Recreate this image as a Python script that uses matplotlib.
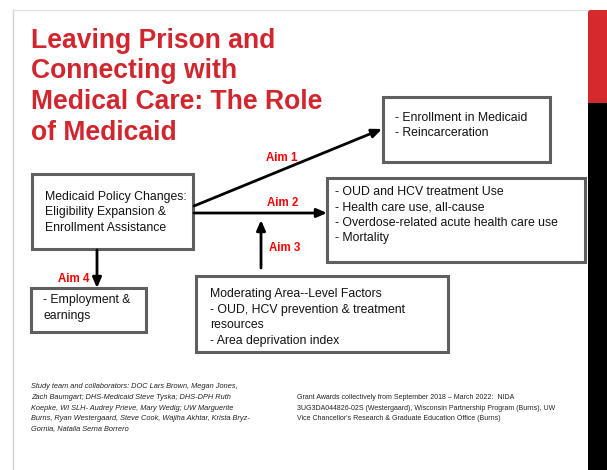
import matplotlib.pyplot as plt
from matplotlib.patches import Rectangle, FancyArrowPatch

plt.rcParams['font.family'] = ['Liberation Sans', 'DejaVu Sans']

# slide content
title_lines = ["Leaving Prison and", "Connecting with",
               "Medical Care: The Role", "of Medicaid"]
policy_text = ["Medicaid Policy Changes:", "Eligibility Expansion &",
               "Enrollment Assistance"]
enroll_text = ["- Enrollment in Medicaid", "- Reincarceration"]
outcome_text = ["- OUD and HCV treatment Use", "- Health care use, all-cause",
                "- Overdose-related acute health care use", "- Mortality"]
employ_text = ["- Employment &", "earnings"]
moder_text = ["Moderating Area--Level Factors",
              "- OUD, HCV prevention & treatment", "resources",
              "- Area deprivation index"]
aim_labels = ["Aim 1", "Aim 2", "Aim 3", "Aim 4"]
team_lines = ["Study team and collaborators: DOC Lars Brown, Megan Jones,",
              "Zach Baumgart; DHS-Medicaid Steve Tyska; DHS-DPH Ruth",
              "Koepke, WI SLH- Audrey Prieve, Mary Wedig; UW Marguerite",
              "Burns, Ryan Westergaard, Steve Cook, Wajiha Akhtar, Krista Bryz-",
              "Gornia, Natalia Serna Borrero"]
grant_lines = ["Grant Awards collectively from September 2018 \u2013 March 2022:  NIDA",
               "3UG3DA044826-02S (Westergaard), Wisconsin Partnership Program (Burns), UW",
               "Vice Chancellor's Research & Graduate Education Office (Burns)"]

RED = '#d2262f'
EDGE = '#5f5f5f'

fig = plt.figure(figsize=(6.07, 4.70), dpi=100)
ax = fig.add_axes([0, 0, 1, 1])
ax.set_xlim(0, 607)
ax.set_ylim(470, 0)
ax.axis('off')

# slide frame and side bars
ax.plot([13, 13], [10, 470], color='#d4d4d4', lw=1)
ax.plot([13, 588], [10, 10], color='#e2e2e2', lw=1)
ax.add_patch(Rectangle((588, 10), 19, 93, color='#d42a2e', lw=0))
ax.add_patch(Rectangle((588, 103), 19, 367, color='black', lw=0))

# title
for i, line in enumerate(title_lines):
    ax.text(31, 41 + i * 30.5, line, color=RED, fontsize=19.1,
            fontweight='bold', va='center', ha='left')


def box(x0, y0, x1, y1, lines, tx, ty, dy):
    ax.add_patch(Rectangle((x0, y0), x1 - x0, y1 - y0, fill=False,
                           edgecolor=EDGE, lw=2.2))
    for k, s in enumerate(lines):
        ax.text(tx, ty + k * dy, s, fontsize=8.8, va='center', ha='left',
                color='#111111')


box(32, 174, 193, 249, policy_text, 45, 197, 15.5)
box(383, 97, 550, 162, enroll_text, 395, 118, 15.5)
box(327, 178, 585, 262, outcome_text, 335, 192, 15.3)
box(31, 288, 146, 332, employ_text, 43, 300, 15.5)
box(196, 276, 448, 352, moder_text, 210, 294, 15.7)


def arrow(p0, p1):
    ax.add_patch(FancyArrowPatch(p0, p1, arrowstyle='-|>,head_length=6,head_width=2.6',
                                 mutation_scale=1, color='black', lw=2,
                                 shrinkA=0, shrinkB=0))


arrow((194, 206), (382, 129))
arrow((194, 213), (327, 213))
arrow((261, 268), (261, 220))
arrow((97, 250), (97, 288))

aim_pos = [(282, 158), (283, 203), (285, 248), (74, 279)]
for lab, (x, y) in zip(aim_labels, aim_pos):
    ax.text(x, y, lab, color='#ff0000', fontsize=8.3, fontweight='bold',
            ha='center', va='center')

# footer
for i, s in enumerate(team_lines):
    ax.text(31, 387 + i * 10.5, s, fontsize=5.35, style='italic',
            va='center', ha='left', color='#222222')
for i, s in enumerate(grant_lines):
    ax.text(297, 397.5 + i * 10.5, s, fontsize=5.05, va='center', ha='left',
            color='#222222')

fig.savefig('out.png', dpi=100)
